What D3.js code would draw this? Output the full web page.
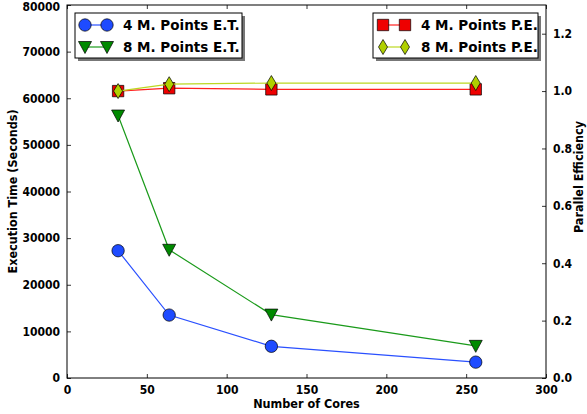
<!DOCTYPE html>
<html>
<head>
<meta charset="utf-8">
<script src="https://cdn.jsdelivr.net/npm/d3@7"></script>
<style>
  body { margin: 0; background: #fff; }
  text { font-family: "DejaVu Sans Condensed", "DejaVu Sans", sans-serif; font-weight: bold; }
  .legend text { font-family: "DejaVu Sans", sans-serif; font-size: 13.5px; }
</style>
</head>
<body>
<div id="chart"></div>
<script>

const FRAME_WIDTH = 587;
const FRAME_HEIGHT = 414;
const MARGINS = {left: 67, right: 41, top: 5, bottom: 36};

const VIS_WIDTH = FRAME_WIDTH - MARGINS.left - MARGINS.right;
const VIS_HEIGHT = FRAME_HEIGHT - MARGINS.top - MARGINS.bottom;

// data
const cores = [32, 64, 128, 256];
const et4 = [27300, 13500, 6800, 3400];
const et8 = [56300, 27500, 13600, 6900];
const pe4 = [1.0, 1.01, 1.006, 1.006];
const pe8 = [1.0, 1.024, 1.028, 1.028];

const xTicks = [0, 50, 100, 150, 200, 250, 300];
const yTicks = [0, 10000, 20000, 30000, 40000, 50000, 60000, 70000, 80000];
const y2Ticks = [0.0, 0.2, 0.4, 0.6, 0.8, 1.0, 1.2];

const svg = d3.select("#chart")
              .append("svg")
                .attr("width", FRAME_WIDTH)
                .attr("height", FRAME_HEIGHT);

const X_SCALE = d3.scaleLinear().domain([0, 300]).range([MARGINS.left, MARGINS.left + VIS_WIDTH]);
const Y_SCALE = d3.scaleLinear().domain([0, 80000]).range([MARGINS.top + VIS_HEIGHT, MARGINS.top]);
const Y2_SCALE = d3.scaleLinear().domain([0, 1.3]).range([MARGINS.top + VIS_HEIGHT, MARGINS.top]);

const X0 = MARGINS.left, X1 = MARGINS.left + VIS_WIDTH;
const Y0 = MARGINS.top, Y1 = MARGINS.top + VIS_HEIGHT;

// axes, ticks pointing in like old matplotlib
function styleAxis(g) {
  g.select(".domain").remove();
  g.selectAll(".tick line").attr("stroke", "#000").attr("stroke-width", 0.8);
  g.selectAll(".tick text").attr("fill", "#000").style("font-size", "12px");
}

svg.append("g")
   .attr("transform", `translate(0,${Y1})`)
   .call(d3.axisBottom(X_SCALE).tickValues(xTicks).tickFormat(d3.format("d")).tickSizeInner(-4).tickPadding(7))
   .call(styleAxis);

svg.append("g")
   .attr("transform", `translate(0,${Y0})`)
   .call(d3.axisTop(X_SCALE).tickValues(xTicks).tickFormat("").tickSizeInner(-4))
   .call(styleAxis);

svg.append("g")
   .attr("transform", `translate(${X0},0)`)
   .call(d3.axisLeft(Y_SCALE).tickValues(yTicks).tickFormat(d3.format("d")).tickSizeInner(-4).tickPadding(7))
   .call(styleAxis);

svg.append("g")
   .attr("transform", `translate(${X1},0)`)
   .call(d3.axisRight(Y2_SCALE).tickValues(y2Ticks).tickFormat(d3.format(".1f")).tickSizeInner(-4).tickPadding(7))
   .call(styleAxis);

// the top label sits a touch lower so it is not cut
svg.selectAll(".tick text").filter((d) => d === 80000).attr("dy", "0.45em");

// frame
svg.append("rect")
   .attr("x", X0).attr("y", Y0)
   .attr("width", VIS_WIDTH).attr("height", VIS_HEIGHT)
   .attr("fill", "none").attr("stroke", "#000").attr("stroke-width", 1);

// axis labels
svg.append("text")
   .attr("x", (X0 + X1) / 2).attr("y", 408)
   .attr("text-anchor", "middle").style("font-size", "12.5px")
   .text("Number of Cores");

svg.append("text")
   .attr("transform", `translate(17,${(Y0 + Y1) / 2}) rotate(-90)`)
   .attr("text-anchor", "middle").style("font-size", "12.5px")
   .text("Execution Time (Seconds)");

svg.append("text")
   .attr("transform", `translate(583,177) rotate(-90)`)
   .attr("text-anchor", "middle").style("font-size", "12.5px")
   .text("Parallel Efficiency");

// marker shapes
const markers = {
  circle: d3.symbol().type(d3.symbolCircle).size(120),
  triangle: () => "M-6.5,-5.5L6.5,-5.5L0,6.5Z",
  square: d3.symbol().type(d3.symbolSquare).size(130),
  diamond: () => "M0,-7.5L4.5,0L0,7.5L-4.5,0Z"
};

const series = [
  {name: "4 M. Points E.T.", values: et4, scale: Y_SCALE, line: "#2a50ff", fill: "#1e4bff", marker: "circle"},
  {name: "8 M. Points E.T.", values: et8, scale: Y_SCALE, line: "#1a9a1a", fill: "#008a00", marker: "triangle"},
  {name: "4 M. Points P.E.", values: pe4, scale: Y2_SCALE, line: "#ff2020", fill: "#ee0000", marker: "square"},
  {name: "8 M. Points P.E.", values: pe8, scale: Y2_SCALE, line: "#bcd820", fill: "#b0d000", marker: "diamond"}
];

series.forEach((s) => {
  const line = d3.line()
                 .x((d, i) => X_SCALE(cores[i]))
                 .y((d) => s.scale(d));
  svg.append("path")
     .datum(s.values)
     .attr("d", line)
     .attr("fill", "none")
     .attr("stroke", s.line)
     .attr("stroke-width", 1.2);

  svg.selectAll(null)
     .data(s.values)
     .enter()
     .append("path")
       .attr("transform", (d, i) => `translate(${X_SCALE(cores[i])},${s.scale(d)})`)
       .attr("d", markers[s.marker])
       .attr("fill", s.fill)
       .attr("stroke", "#000")
       .attr("stroke-width", 0.7);
});

// legends
function drawLegend(items, x, y, w) {
  const g = svg.append("g").attr("class", "legend");
  const h = 45;
  g.append("rect").attr("x", x + 3).attr("y", y + 3).attr("width", w).attr("height", h).attr("fill", "#777");
  g.append("rect").attr("x", x).attr("y", y).attr("width", w).attr("height", h)
   .attr("fill", "#fff").attr("stroke", "#000").attr("stroke-width", 1);
  items.forEach((s, i) => {
    const cy = y + 12 + i * 22;
    g.append("line")
     .attr("x1", x + 10).attr("x2", x + 32).attr("y1", cy).attr("y2", cy)
     .attr("stroke", s.line).attr("stroke-width", 1.2);
    [x + 10, x + 32].forEach((mx) => {
      g.append("path")
       .attr("transform", `translate(${mx},${cy})`)
       .attr("d", markers[s.marker])
       .attr("fill", s.fill).attr("stroke", "#000").attr("stroke-width", 0.7);
    });
    g.append("text").attr("x", x + 48).attr("y", cy + 5).text(s.name);
  });
}

drawLegend(series.slice(0, 2), 75, 13, 167);
drawLegend(series.slice(2, 4), 373, 13, 165);

</script>
</body>
</html>
